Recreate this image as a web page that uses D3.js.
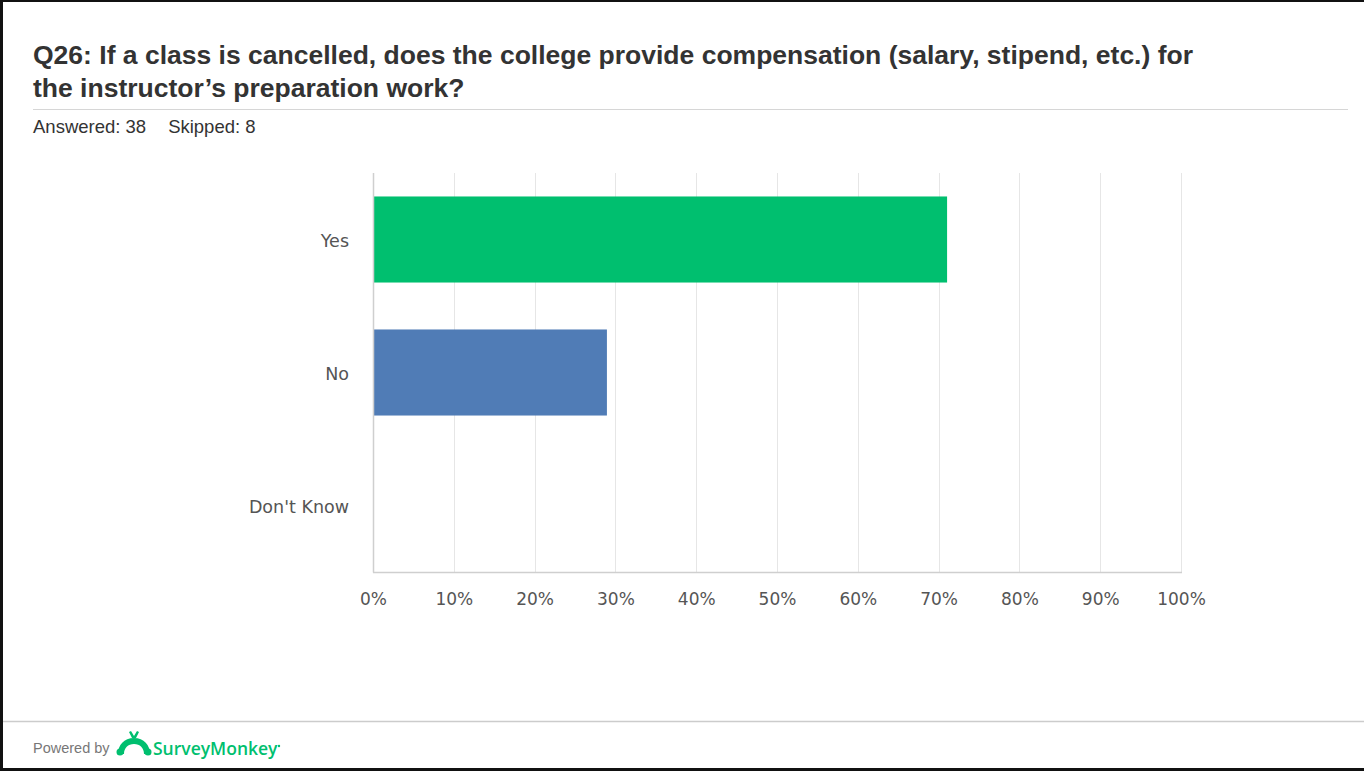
<!DOCTYPE html>
<html>
<head>
<meta charset="utf-8">
<script src="https://cdn.jsdelivr.net/npm/d3@7"></script>
<style>
  html, body { margin: 0; padding: 0; background: #fff; }
  svg { display: block; }
</style>
</head>
<body>
<script>
// Survey question data
const titleLines = [
  "Q26: If a class is cancelled, does the college provide compensation (salary, stipend, etc.) for",
  "the instructor\u2019s preparation work?"
];
const answeredCount = 38;
const skippedCount = 8;
const categories = ["Yes", "No", "Don't Know"];
const percentValues = [71.05, 28.95, 0];
const barColors = ["#00BF6F", "#507CB6", "#6BC8CD"];
const tickValues = [0, 10, 20, 30, 40, 50, 60, 70, 80, 90, 100];

const W = 1364, H = 771;
const svg = d3.select("body").append("svg").attr("width", W).attr("height", H);

svg.append("rect").attr("width", W).attr("height", H).attr("fill", "#fff");

// frame edges
svg.append("rect").attr("x", 0).attr("y", 0).attr("width", W).attr("height", 2).attr("fill", "#111");
svg.append("rect").attr("x", 0).attr("y", 0).attr("width", 3).attr("height", H).attr("fill", "#111");
svg.append("rect").attr("x", 0).attr("y", H - 3).attr("width", W).attr("height", 3).attr("fill", "#111");

// title
const title = svg.append("text")
  .attr("font-family", "'Liberation Sans', Arial, sans-serif")
  .attr("font-weight", "bold")
  .attr("font-size", 26.5)
  .attr("fill", "#333");
titleLines.forEach((t, i) => {
  title.append("tspan").attr("x", 33).attr("y", 64 + i * 33).text(t);
});

svg.append("line").attr("x1", 33).attr("x2", 1348).attr("y1", 109.5).attr("y2", 109.5)
  .attr("stroke", "#d6d6d6").attr("stroke-width", 1);

svg.append("text")
  .attr("x", 33).attr("y", 133)
  .attr("font-family", "'Liberation Sans', Arial, sans-serif")
  .attr("font-size", 18.5).attr("fill", "#333")
  .text(`Answered: ${answeredCount}`)
  .append("tspan").attr("dx", 22).text(`Skipped: ${skippedCount}`);

// plot area
const plot = { left: 373, right: 1181, top: 173, bottom: 572 };

const x = d3.scaleLinear().domain([0, 100]).range([plot.left, plot.right]);
const y = d3.scaleBand().domain(categories).range([plot.top, plot.bottom])
  .paddingInner(0.353).paddingOuter(0.1765);

// vertical gridlines
svg.append("g")
  .selectAll("line").data(tickValues.slice(1)).join("line")
  .attr("x1", d => Math.round(x(d)) + 0.5).attr("x2", d => Math.round(x(d)) + 0.5)
  .attr("y1", plot.top).attr("y2", plot.bottom)
  .attr("stroke", "#e6e6e6").attr("stroke-width", 1);

// bars
svg.append("g")
  .selectAll("rect").data(categories).join("rect")
  .attr("x", x(0))
  .attr("y", d => y(d))
  .attr("width", (d, i) => x(percentValues[i]) - x(0))
  .attr("height", y.bandwidth())
  .attr("fill", (d, i) => barColors[i]);

// axis lines
svg.append("line").attr("x1", plot.left + 0.5).attr("x2", plot.left + 0.5)
  .attr("y1", plot.top).attr("y2", plot.bottom + 0.5)
  .attr("stroke", "#cfcfcf").attr("stroke-width", 1.5);
svg.append("line").attr("x1", plot.left).attr("x2", plot.right + 1)
  .attr("y1", plot.bottom + 0.5).attr("y2", plot.bottom + 0.5)
  .attr("stroke", "#cfcfcf").attr("stroke-width", 1.5);

const labelFont = "'DejaVu Sans', 'Noto Sans', sans-serif";

// x axis tick labels
const xAxis = d3.axisBottom(x).tickValues(tickValues).tickSize(0).tickPadding(0)
  .tickFormat(d => d + "%");
const gx = svg.append("g").attr("transform", `translate(0, ${plot.bottom + 21})`).call(xAxis);
gx.select(".domain").remove();
gx.selectAll("text")
  .attr("font-family", labelFont)
  .attr("font-size", 17).attr("fill", "#555");

// y axis category labels
const yAxis = d3.axisLeft(y).tickSize(0).tickPadding(0);
const gy = svg.append("g").attr("transform", `translate(${plot.left - 24}, 2)`).call(yAxis);
gy.select(".domain").remove();
gy.selectAll("text")
  .attr("font-family", labelFont)
  .attr("font-size", 17.5).attr("fill", "#555");

// footer
svg.append("line").attr("x1", 3).attr("x2", W).attr("y1", 721.5).attr("y2", 721.5)
  .attr("stroke", "#cccccc").attr("stroke-width", 1.5);

svg.append("text").attr("x", 33).attr("y", 753)
  .attr("font-family", "'Liberation Sans', Arial, sans-serif")
  .attr("font-size", 14.5).attr("fill", "#777")
  .text("Powered by");

// monkey mark
const logo = svg.append("g").attr("transform", "translate(118, 742)").attr("fill", "#00BF6F");
logo.append("path")
  .attr("d", "M0,12 C0,3 6,-4 16,-4 C26,-4 32,3 32,12 L26,12 C26,6 22,2 16,2 C10,2 6,6 6,12 Z");
logo.append("circle").attr("cx", 2).attr("cy", 10).attr("r", 3.5);
logo.append("circle").attr("cx", 30).attr("cy", 10).attr("r", 3.5);
logo.append("path").attr("d", "M14,-4 L11,-10 L13,-11 L16,-6 L19,-11 L21,-10 L18,-4 Z");

svg.append("text").attr("x", 153).attr("y", 755)
  .attr("font-family", "'Open Sans', 'Noto Sans', sans-serif")
  .attr("font-size", 17.5).attr("font-weight", 600).attr("fill", "#00BF6F")
  .text("SurveyMonkey");
svg.append("circle").attr("cx", 279).attr("cy", 746).attr("r", 1.2).attr("fill", "#00BF6F");
</script>
</body>
</html>
